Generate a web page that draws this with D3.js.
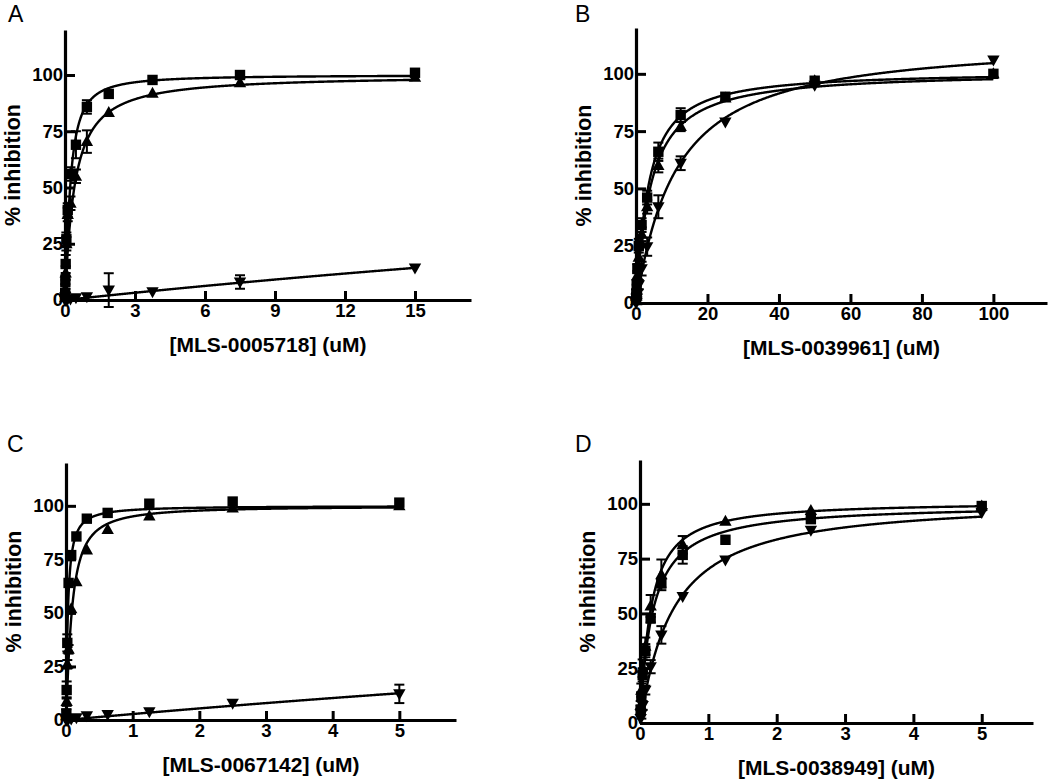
<!DOCTYPE html>
<html>
<head>
<meta charset="utf-8">
<script src="https://cdn.jsdelivr.net/npm/d3@7"></script>
<style>
  html, body { margin: 0; padding: 0; background: #fff; }
  svg { display: block; }
  text { font-family: "Liberation Sans", Arial, Helvetica, sans-serif; fill: #000; }
</style>
</head>
<body>
<svg id="chart" width="1050" height="780"></svg>
<script>
// ---------------- DATA ----------------
const panelLetters = ["A", "B", "C", "D"];
const xTitles = ["[MLS-0005718] (uM)", "[MLS-0039961] (uM)", "[MLS-0067142] (uM)", "[MLS-0038949] (uM)"];
const yTitle = "% inhibition";
const yTicks = [0, 25, 50, 75, 100];
const xTicksA = [0, 3, 6, 9, 12, 15];
const xTicksB = [0, 20, 40, 60, 80, 100];
const xTicksC = [0, 1, 2, 3, 4, 5];
const xTicksD = [0, 1, 2, 3, 4, 5];
const seriesShapes = ["square", "triangleUp", "triangleDown"];

// Panel A
const concA = [15, 7.5, 3.75, 1.875, 0.9375, 0.469, 0.234, 0.117, 0.0586, 0.0293, 0.0146, 0.0073];
const aSquare = [101, 100, 97.8, 91.6, 85.8, 69, 56, 40, 27, 16, 8, 3];
const aSquareErr = [0.5, 1, 0.8, 1, 3, 6, 3, 3, 3, 4, 3, 2];
const aUp = [99, 96.6, 91.9, 83.3, 70.4, 55, 43, 38, 25, 12, 5, 1];
const aUpErr = [0.5, 1, 1, 1, 5, 3, 3, 3, 3, 3, 2, 1];
const aDown = [14.2, 8, 3.7, 4.4, 1.5, 1, 0.5, 0.5, 0, 0, 0, 0];
const aDownErr = [0.5, 3, 1, 7.5, 1, 1, 1, 1, 0.5, 0.5, 0.5, 0.5];
const fitTopA = [100, 100, 100];
const fitIC50A = [0.22, 0.4, 90];
const fitHillA = [1.3, 1.05, 1];

// Panel B
const concB = [100, 50, 25, 12.5, 6.25, 3.125, 1.5625, 0.781, 0.391, 0.195, 0.098, 0.049];
const bSquare = [100, 97, 90, 82, 66, 46, 34, 25, 15, 8, 4, 2];
const bSquareErr = [0.5, 1, 1, 3, 4, 3, 3, 3, 2, 2, 2, 1];
const bUp = [100, 97, 89.5, 77, 60, 42, 30, 20, 12, 6, 3, 1];
const bUpErr = [0.5, 1, 1, 2, 3, 3, 3, 3, 2, 2, 1, 1];
const bDown = [106, 95, 79, 61, 42, 24.6, 15, 8, 4, 2, 1, 0];
const bDownErr = [0.5, 1, 1, 3, 5, 4, 3, 2, 2, 1, 1, 1];
const fitTopB = [101, 101, 115];
const fitIC50B = [3.4, 4.0, 11];
const fitHillB = [1.1, 1.05, 1.05];

// Panel C
const concC = [5, 2.5, 1.25, 0.625, 0.3125, 0.156, 0.078, 0.039, 0.0195, 0.0098, 0.0049];
const cSquare = [101.5, 102, 101, 96.7, 94, 85.7, 77, 64, 36, 14, 3];
const cSquareErr = [1, 0.5, 0.5, 0.5, 0.5, 0.5, 1, 1, 4, 4, 2];
const cUp = [100, 99, 95.3, 89, 79.4, 64.6, 52, 33, 26, 8.6, 2];
const cUpErr = [0.5, 0.5, 0.5, 1, 1, 1, 1, 2, 2, 2, 1];
const cDown = [12.2, 7.8, 3.9, 2.6, 2, 1, 0.5, 0.5, 0, 0, 0];
const cDownErr = [4.3, 0.5, 0.5, 0.5, 0.5, 0.5, 0.5, 0.5, 0.5, 0.5, 0.5];
const fitTopC = [100, 100, 100];
const fitIC50C = [0.028, 0.085, 35];
const fitHillC = [1.1, 1.2, 1];

// Panel D
const concD = [5, 2.5, 1.25, 0.625, 0.3125, 0.156, 0.078, 0.039, 0.0195, 0.0098];
const dSquare = [99, 93, 83.6, 76.7, 63.8, 47.8, 33, 22, 12, 6];
const dSquareErr = [1, 1, 1, 4, 2, 2, 3, 3, 2, 2];
const dUp = [99, 97, 92, 81.3, 67.6, 53.4, 35, 25, 15, 8];
const dUpErr = [1, 1, 1, 4, 7, 5, 4, 4, 3, 2];
const dDown = [96, 88, 74.4, 57.7, 40.2, 25.7, 15, 8, 4, 2];
const dDownErr = [1, 1, 1, 1, 4, 3, 2, 2, 2, 1];
const fitTopD = [100, 101, 102];
const fitIC50D = [0.18, 0.15, 0.47];
const fitHillD = [1.0, 1.1, 1.05];

// ---------------- LAYOUT ----------------
const layout = [
  { x0: 65,  x1: 471,  xMax: 17.4, y0: 300, y1: 30,  lx: 8,   ly: 22 },
  { x0: 636, x1: 1047, xMax: 115,  y0: 303, y1: 28,  lx: 575, ly: 22 },
  { x0: 66,  x1: 456,  xMax: 5.85, y0: 720, y1: 463, lx: 7,   ly: 452 },
  { x0: 640, x1: 1033, xMax: 5.75, y0: 723, y1: 460, lx: 575, ly: 452 }
];

const panels = [
  { conc: concA, vals: [aSquare, aUp, aDown], errs: [aSquareErr, aUpErr, aDownErr],
    top: fitTopA, ic50: fitIC50A, hill: fitHillA, xTicks: xTicksA },
  { conc: concB, vals: [bSquare, bUp, bDown], errs: [bSquareErr, bUpErr, bDownErr],
    top: fitTopB, ic50: fitIC50B, hill: fitHillB, xTicks: xTicksB },
  { conc: concC, vals: [cSquare, cUp, cDown], errs: [cSquareErr, cUpErr, cDownErr],
    top: fitTopC, ic50: fitIC50C, hill: fitHillC, xTicks: xTicksC },
  { conc: concD, vals: [dSquare, dUp, dDown], errs: [dSquareErr, dUpErr, dDownErr],
    top: fitTopD, ic50: fitIC50D, hill: fitHillD, xTicks: xTicksD }
];

const svg = d3.select("#chart");
svg.append("rect").attr("width", 1050).attr("height", 780).attr("fill", "#fff");

function hill(x, top, ic, n) {
  if (x <= 0) return 0;
  const a = Math.pow(x, n);
  return top * a / (Math.pow(ic, n) + a);
}

function markerPath(shape) {
  if (shape === "square") return "M-5.2,-5.2H5.2V5.2H-5.2Z";
  if (shape === "triangleUp") return "M0,-6.5L6.2,4.5L-6.2,4.5Z";
  return "M0,6.5L6.2,-4.5L-6.2,-4.5Z";
}

panels.forEach((p, pi) => {
  const L = layout[pi];
  const x = d3.scaleLinear().domain([0, L.xMax]).range([L.x0, L.x1]);
  const y = d3.scaleLinear().domain([0, 120]).range([L.y0, L.y1]);
  const g = svg.append("g");

  // fit curves
  const cMin = d3.min(p.conc), cMax = d3.max(p.conc);
  const samples = d3.range(0, 801).map(i => cMin + (cMax - cMin) * Math.pow(i / 800, 2.2));
  const line = d3.line().x(d => x(d[0])).y(d => y(d[1]));
  seriesShapes.forEach((s, si) => {
    const pts = samples.map(c => [c, hill(c, p.top[si], p.ic50[si], p.hill[si])]);
    g.append("path").attr("d", line(pts))
      .attr("fill", "none").attr("stroke", "#000").attr("stroke-width", 2.4);
  });

  // error bars
  seriesShapes.forEach((s, si) => {
    p.conc.forEach((c, i) => {
      const v = p.vals[si][i], e = p.errs[si][i];
      if (e < 1.5) return;
      const cx = x(c);
      const eb = g.append("g").attr("stroke", "#000").attr("stroke-width", 2);
      eb.append("line").attr("x1", cx).attr("x2", cx).attr("y1", y(v - e)).attr("y2", y(v + e));
      eb.append("line").attr("x1", cx - 5).attr("x2", cx + 5).attr("y1", y(v - e)).attr("y2", y(v - e));
      eb.append("line").attr("x1", cx - 5).attr("x2", cx + 5).attr("y1", y(v + e)).attr("y2", y(v + e));
    });
  });

  // markers
  seriesShapes.forEach((s, si) => {
    g.selectAll(null).data(p.conc.map((c, i) => [c, p.vals[si][i]])).enter()
      .append("path")
      .attr("d", markerPath(s))
      .attr("transform", d => `translate(${x(d[0])},${y(d[1])})`)
      .attr("fill", "#000");
  });

  // axes
  const xAxis = d3.axisBottom(x).tickValues(p.xTicks).tickSizeInner(-9).tickSizeOuter(0).tickPadding(4)
    .tickFormat(d3.format("d"));
  const gx = g.append("g").attr("transform", `translate(0,${L.y0})`).call(xAxis);
  const yAxis = d3.axisLeft(y).tickValues(yTicks).tickSizeInner(-10).tickSizeOuter(0).tickPadding(2)
    .tickFormat(d3.format("d"));
  const gy = g.append("g").attr("transform", `translate(${L.x0},0)`).call(yAxis);
  [gx, gy].forEach(ax => {
    ax.select(".domain").attr("stroke", "#000").attr("stroke-width", 3.2);
    ax.selectAll(".tick line").attr("stroke", "#000").attr("stroke-width", 3);
    ax.selectAll(".tick text").attr("font-size", 18.5).attr("font-weight", "bold")
      .attr("font-family", "'Liberation Sans', Arial, sans-serif").attr("fill", "#000");
  });

  // titles
  g.append("text").attr("x", (L.x0 + L.x1) / 2).attr("y", L.y0 + 52)
    .attr("text-anchor", "middle").attr("font-size", 21).attr("font-weight", "bold")
    .text(xTitles[pi]);
  g.append("text")
    .attr("transform", `translate(${L.x0 - 45},${(L.y0 + L.y1) / 2}) rotate(-90)`)
    .attr("text-anchor", "middle").attr("font-size", 21.5).attr("font-weight", "bold")
    .text(yTitle);
  g.append("text").attr("x", L.lx).attr("y", L.ly).attr("font-size", 23)
    .text(panelLetters[pi]);
});
</script>
</body>
</html>
